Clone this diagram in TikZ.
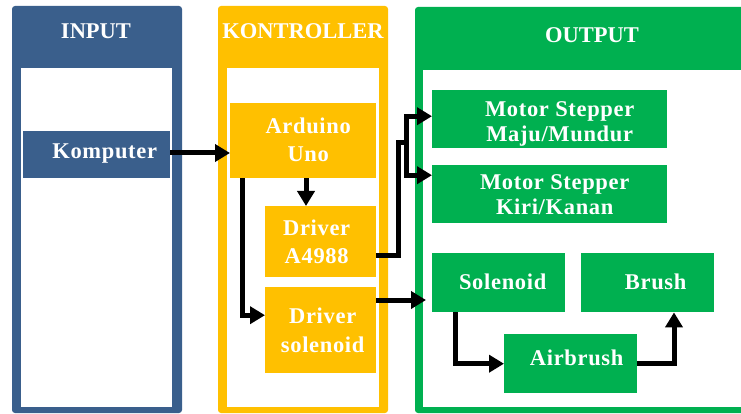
\documentclass[tikz,border=0pt]{standalone}
\usepackage{fontspec}
\setmainfont{Liberation Serif}
\usetikzlibrary{arrows.meta,calc}
\definecolor{cblue}{HTML}{3A5F8C}
\definecolor{cyel}{HTML}{FFC000}
\definecolor{cgreen}{HTML}{00B050}
\begin{document}
\begin{tikzpicture}[x=1pt,y=-1pt,
  boxB/.style={fill=cblue,draw=none,inner sep=0pt,anchor=north west},
  boxY/.style={fill=cyel,draw=none,inner sep=0pt,anchor=north west},
  boxG/.style={fill=cgreen,draw=none,inner sep=0pt,anchor=north west},
  txt/.style={text=white,font=\fontsize{22.5}{25}\selectfont\bfseries\addfontfeatures{LetterSpace=3},align=center,inner sep=0pt},
  txtY/.style={txt,font=\fontsize{22.5}{28.5}\selectfont\bfseries\addfontfeatures{LetterSpace=3}},
  ttl/.style={text=white,font=\fontsize{22.5}{26}\selectfont\bfseries,inner sep=0pt},
  conn/.style={line width=5pt,black},
  arr/.style={conn,-{Triangle[length=15pt,width=17pt]}}]
\useasboundingbox (0,0) rectangle (741,414);
\begin{scope}
\clip (0,0) rectangle (741,414);
% panels
\fill[cblue,rounded corners=3pt] (12,6) rectangle (182,413);
\fill[white] (21,68) rectangle (172,407);
\fill[cyel,rounded corners=3pt] (218,6) rectangle (388,413);
\fill[white] (227,68) rectangle (379,407);
\fill[cgreen,rounded corners=3pt] (415,7) rectangle (780,413);
\fill[white] (423,70) rectangle (780,407);
\end{scope}
% titles
\node[ttl] (tIn) at (96,31) {INPUT};
\node[ttl] (tKo) at (303,31) {KONTROLLER};
\node[ttl] (tOut) at (592,35) {OUTPUT};
% boxes
\node[boxB,minimum width=147pt,minimum height=47pt] (komp) at (23,131) {};
\node[boxY,minimum width=146pt,minimum height=75pt] (ard) at (230,103) {};
\node[boxY,minimum width=111pt,minimum height=71pt] (drvA) at (265,206) {};
\node[boxY,minimum width=111pt,minimum height=86pt] (drvS) at (265,287) {};
\node[boxG,minimum width=235pt,minimum height=58pt] (m1) at (432,90) {};
\node[boxG,minimum width=235pt,minimum height=58pt] (m2) at (432,165) {};
\node[boxG,minimum width=133pt,minimum height=59pt] (sol) at (432,253) {};
\node[boxG,minimum width=133pt,minimum height=59pt] (brush) at (581,253) {};
\node[boxG,minimum width=133pt,minimum height=59pt] (air) at (504,334) {};
% texts
\node[txt] (lkomp) at ($(komp.center)+(8,-1)$) {Komputer};
\node[txtY] (lard) at ($(ard.center)+(5,-1)$) {Arduino\\Uno};
\node[txtY] (ldrvA) at ($(drvA.center)+(-4,0)$) {Driver\\A4988};
\node[txtY] (ldrvS) at ($(drvS.center)+(2,0)$) {Driver\\solenoid};
\node[txt] (lm1) at ($(m1.center)+(10,5)$) {Motor Stepper\\Maju/Mundur};
\node[txt] (lm2) at ($(m2.center)+(5,0)$) {Motor Stepper\\Kiri/Kanan};
\node[txt] (lsol) at ($(sol.center)+(4,-1)$) {Solenoid};
\node[txt] (lbrush) at ($(brush.center)+(8,-1)$) {Brush};
\node[txt] (lair) at ($(air.center)+(6,-6)$) {Airbrush};
% connectors
\draw[arr] (komp.east |- 0,153) -- (ard.west |- 0,153);
\draw[arr] (ard.south -| 306,0) -- (drvA.north -| 306,0);
\draw[arr] ($(ard.south west)+(12,0)$) |- ($(drvS.west)+(0,-15)$);
\coordinate (split) at (406,143);
\draw[conn,line join=miter] ($(drvA.east)+(0,14)$) -| (398,143) -- (split);
\draw[arr] (split) |- ($(m1.west)+(0,-3)$);
\draw[arr] (split) |- ($(m2.west)+(0,-19)$);
\coordinate (solin) at (426,300);
\draw[arr] (drvS.east |- solin) -- (solin);
\draw[arr] ($(sol.south west)+(23,0)$) |- (air.west);
\draw[arr] (air.east) -| ($(brush.south west)+(93,0)$);
\end{tikzpicture}
\end{document}
